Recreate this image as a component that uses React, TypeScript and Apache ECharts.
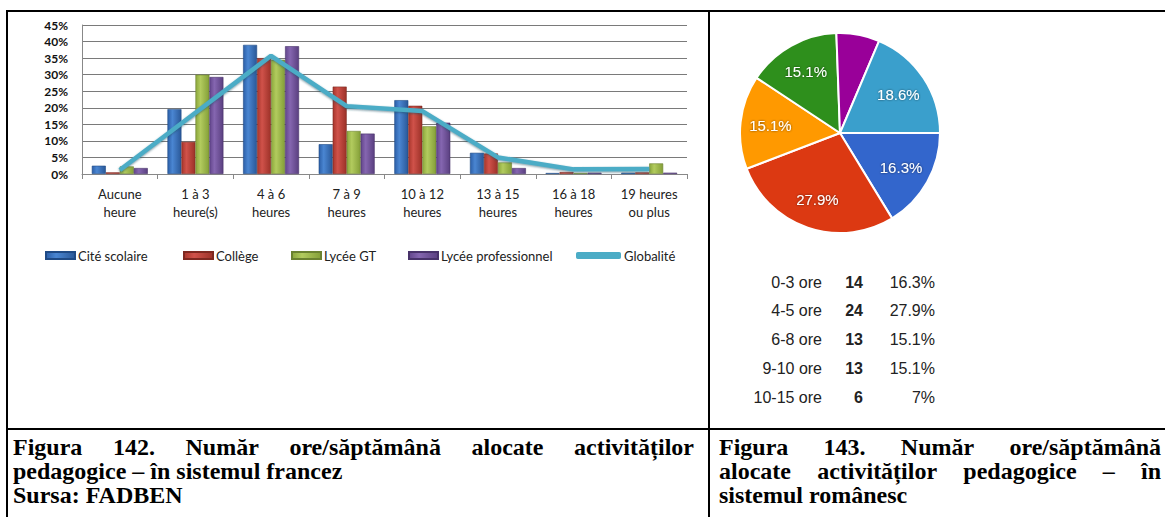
import React, { useEffect, useRef } from 'react';
import * as echarts from 'echarts';

// ---------- Bar chart data (Figura 142) ----------
const categories = [
  'Aucune\nheure', '1 à 3\nheure(s)', '4 à 6\nheures', '7 à 9\nheures',
  '10 à 12\nheures', '13 à 15\nheures', '16 à 18\nheures', '19 heures\nou plus',
];
const yTicks = [0, 5, 10, 15, 20, 25, 30, 35, 40, 45];
const citeScolaire = [2.5, 19.6, 39.0, 9.0, 22.3, 6.4, 0.3, 0.4];
const college = [0.5, 9.7, 35.0, 26.4, 20.6, 6.2, 0.6, 0.5];
const lyceeGT = [2.3, 30.0, 34.5, 13.0, 14.4, 3.5, 0.3, 3.2];
const lyceePro = [1.8, 29.3, 38.6, 12.2, 15.5, 1.8, 0.4, 0.4];
const globalite = [1.2, 18.5, 35.7, 20.5, 19.0, 5.0, 1.4, 1.5];
const barNames = ['Cité scolaire', 'Collège', 'Lycée GT', 'Lycée professionnel'];
const lineName = 'Globalité';

// ---------- Pie data (Figura 143) ----------
const pieLabels = ['0-3 ore', '4-5 ore', '6-8 ore', '9-10 ore', '10-15 ore', 'peste 15 ore'];
const pieCounts = [14, 24, 13, 13, 6, 16];
const piePercents = ['16.3%', '27.9%', '15.1%', '15.1%', '7%', '18.6%'];
const tableRows = 5;

// ---------- Captions ----------
const leftCaption = [
  'Figura 142. Număr ore/săptămână alocate activităților',
  'pedagogice – în sistemul francez',
  'Sursa: FADBEN',
];
const rightCaption = [
  'Figura 143. Număr ore/săptămână',
  'alocate activităților pedagogice – în',
  'sistemul românesc',
];

const barColors = [
  ['#2c5fa8', '#4a86d2', '#2a5898'],
  ['#a8362c', '#d0524a', '#9c3128'],
  ['#8ca83c', '#b2cb5e', '#849f38'],
  ['#63468c', '#8566b0', '#5a3f80'],
];
const barBorders = ['#1f4a85', '#7e2820', '#6b8230', '#48326a'];
const pieColors = ['#3366cc', '#dc3912', '#ff9900', '#2e8f1c', '#990099', '#3a9fcc'];

const CAP_FONT = 'Liberation Serif';
const CAP_SIZE = 24;

export default function App() {
  const ref = useRef<HTMLDivElement>(null);

  useEffect(() => {
    document.body.style.margin = '0';
    const chart = echarts.init(ref.current!, null, { renderer: 'svg' });

    const ctx = document.createElement('canvas').getContext('2d')!;
    const measure = (t: string) => {
      ctx.font = `bold ${CAP_SIZE}px "${CAP_FONT}"`;
      return ctx.measureText(t).width;
    };
    const capStyle = (text: string) => ({
      text,
      fill: '#000',
      fontFamily: CAP_FONT,
      fontWeight: 'bold',
      fontSize: CAP_SIZE,
      lineHeight: 21,
      textVerticalAlign: 'middle',
      textAlign: 'left',
    });
    const justify = (line: string, x0: number, x1: number, y: number) => {
      const words = line.split(' ');
      const widths = words.map(measure);
      const total = widths.reduce((a, b) => a + b, 0);
      const gap = (x1 - x0 - total) / (words.length - 1);
      let x = x0;
      return words.map((w, i) => {
        const el = { type: 'text', x, y, style: capStyle(w) };
        x += widths[i] + gap;
        return el;
      });
    };
    const plain = (line: string, x: number, y: number) => ({ type: 'text', x, y, style: capStyle(line) });

    const capY = [447, 471, 495];
    const captionEls = [
      ...justify(leftCaption[0], 13, 694, capY[0]),
      plain(leftCaption[1], 13, capY[1]),
      plain(leftCaption[2], 13, capY[2]),
      ...justify(rightCaption[0], 719, 1161, capY[0]),
      ...justify(rightCaption[1], 719, 1161, capY[1]),
      plain(rightCaption[2], 719, capY[2]),
    ];

    const line = (x1: number, y1: number, x2: number, y2: number) => ({
      type: 'line', shape: { x1, y1, x2, y2 }, style: { stroke: '#000', lineWidth: 2 },
    });
    const borderEls = [
      line(7, 11, 1165, 11),
      line(7, 10, 7, 517),
      line(709, 11, 709, 517),
      line(7, 429, 1165, 429),
    ];

    const tableEls: any[] = [];
    const rowY = [282, 310, 339, 368, 397];
    for (let i = 0; i < tableRows; i++) {
      const base = { fontFamily: 'Liberation Sans', fontSize: 16, fill: '#222', textVerticalAlign: 'middle', textAlign: 'right' };
      tableEls.push({ type: 'text', x: 822, y: rowY[i], style: { ...base, text: pieLabels[i] } });
      tableEls.push({ type: 'text', x: 863, y: rowY[i], style: { ...base, fontWeight: 'bold', text: String(pieCounts[i]) } });
      tableEls.push({ type: 'text', x: 935, y: rowY[i], style: { ...base, text: piePercents[i] } });
    }

    const barData = [citeScolaire, college, lyceeGT, lyceePro];
    const barSeries = barData.map((d, i) => ({
      name: barNames[i],
      type: 'bar',
      data: d,
      barGap: '0%',
      barCategoryGap: '26%',
      itemStyle: {
        color: new echarts.graphic.LinearGradient(0, 0, 1, 0, [
          { offset: 0, color: barColors[i][0] },
          { offset: 0.35, color: barColors[i][1] },
          { offset: 1, color: barColors[i][2] },
        ]),
        borderColor: barBorders[i],
        borderWidth: 0.6,
      },
    }));

    const legendLefts = [45, 183, 291, 408, 576];
    const allNames = [...barNames, lineName];
    const legends = allNames.map((n, i) => ({
      data: [n],
      left: legendLefts[i],
      top: 249,
      padding: 0,
      itemGap: 0,
      itemWidth: i === 4 ? 45 : 29,
      itemHeight: 7,
      icon: i === 4 ? 'roundRect' : 'rect',
      textStyle: { fontFamily: 'Lato', fontSize: 13, color: '#222', padding: [0, 0, 0, -2] },
    }));

    const pieData = pieLabels.map((n, i) => ({
      name: n,
      value: pieCounts[i],
      label: { show: i !== 4 },
    }));

    const option: any = {
      animation: false,
      backgroundColor: '#fff',
      grid: { left: 82, right: 478, top: 25, bottom: 343, containLabel: false },
      legend: legends,
      xAxis: {
        type: 'category',
        data: categories,
        axisLine: { lineStyle: { color: '#888', width: 1 } },
        axisTick: { show: true, length: 5, lineStyle: { color: '#888' } },
        axisLabel: {
          fontFamily: 'Lato', fontSize: 13, color: '#222', lineHeight: 18, margin: 11, interval: 0,
        },
      },
      yAxis: {
        type: 'value',
        min: yTicks[0],
        max: yTicks[yTicks.length - 1],
        interval: 5,
        axisLine: { show: true, lineStyle: { color: '#888' } },
        axisTick: { show: false },
        splitLine: { lineStyle: { color: '#7a7a7a', width: 1 } },
        axisLabel: {
          formatter: '{value}%', fontFamily: 'Lato', fontWeight: 'bold', fontSize: 12, color: '#111', margin: 14,
        },
      },
      series: [
        ...barSeries,
        {
          name: lineName,
          type: 'line',
          data: globalite,
          symbol: 'none',
          color: '#4bacc6',
          lineStyle: {
            color: '#4bacc6', width: 4.5,
            shadowColor: 'rgba(30,80,100,0.6)', shadowBlur: 2, shadowOffsetY: 1,
          },
          z: 5,
        },
        {
          type: 'pie',
          center: [840, 133],
          radius: [0, 100],
          startAngle: 0,
          clockwise: true,
          percentPrecision: 1,
          label: { show: false },
          labelLine: { show: false },
          itemStyle: { borderColor: '#fff', borderWidth: 2 },
          color: pieColors,
          data: pieData.map((d) => ({ name: d.name, value: d.value })),
          silent: true,
        },
        {
          type: 'pie',
          center: [840, 133],
          radius: [34, 100],
          startAngle: 0,
          clockwise: true,
          percentPrecision: 1,
          itemStyle: { color: 'rgba(0,0,0,0)', borderWidth: 0 },
          label: {
            show: true,
            position: 'inside',
            formatter: '{d}%',
            fontFamily: 'Liberation Sans',
            fontSize: 15,
            color: '#fff',
            textShadowColor: 'rgba(0,0,0,0.6)',
            textShadowBlur: 2,
          },
          labelLine: { show: false },
          data: pieData,
          silent: true,
          z: 6,
        },
      ],
      graphic: [...borderEls, ...tableEls, ...captionEls],
    };

    chart.setOption(option);
    return () => chart.dispose();
  }, []);

  return (
    <div
      ref={ref}
      style={{ position: 'absolute', left: 0, top: 0, width: 1165, height: 517, background: '#fff' }}
    />
  );
}
